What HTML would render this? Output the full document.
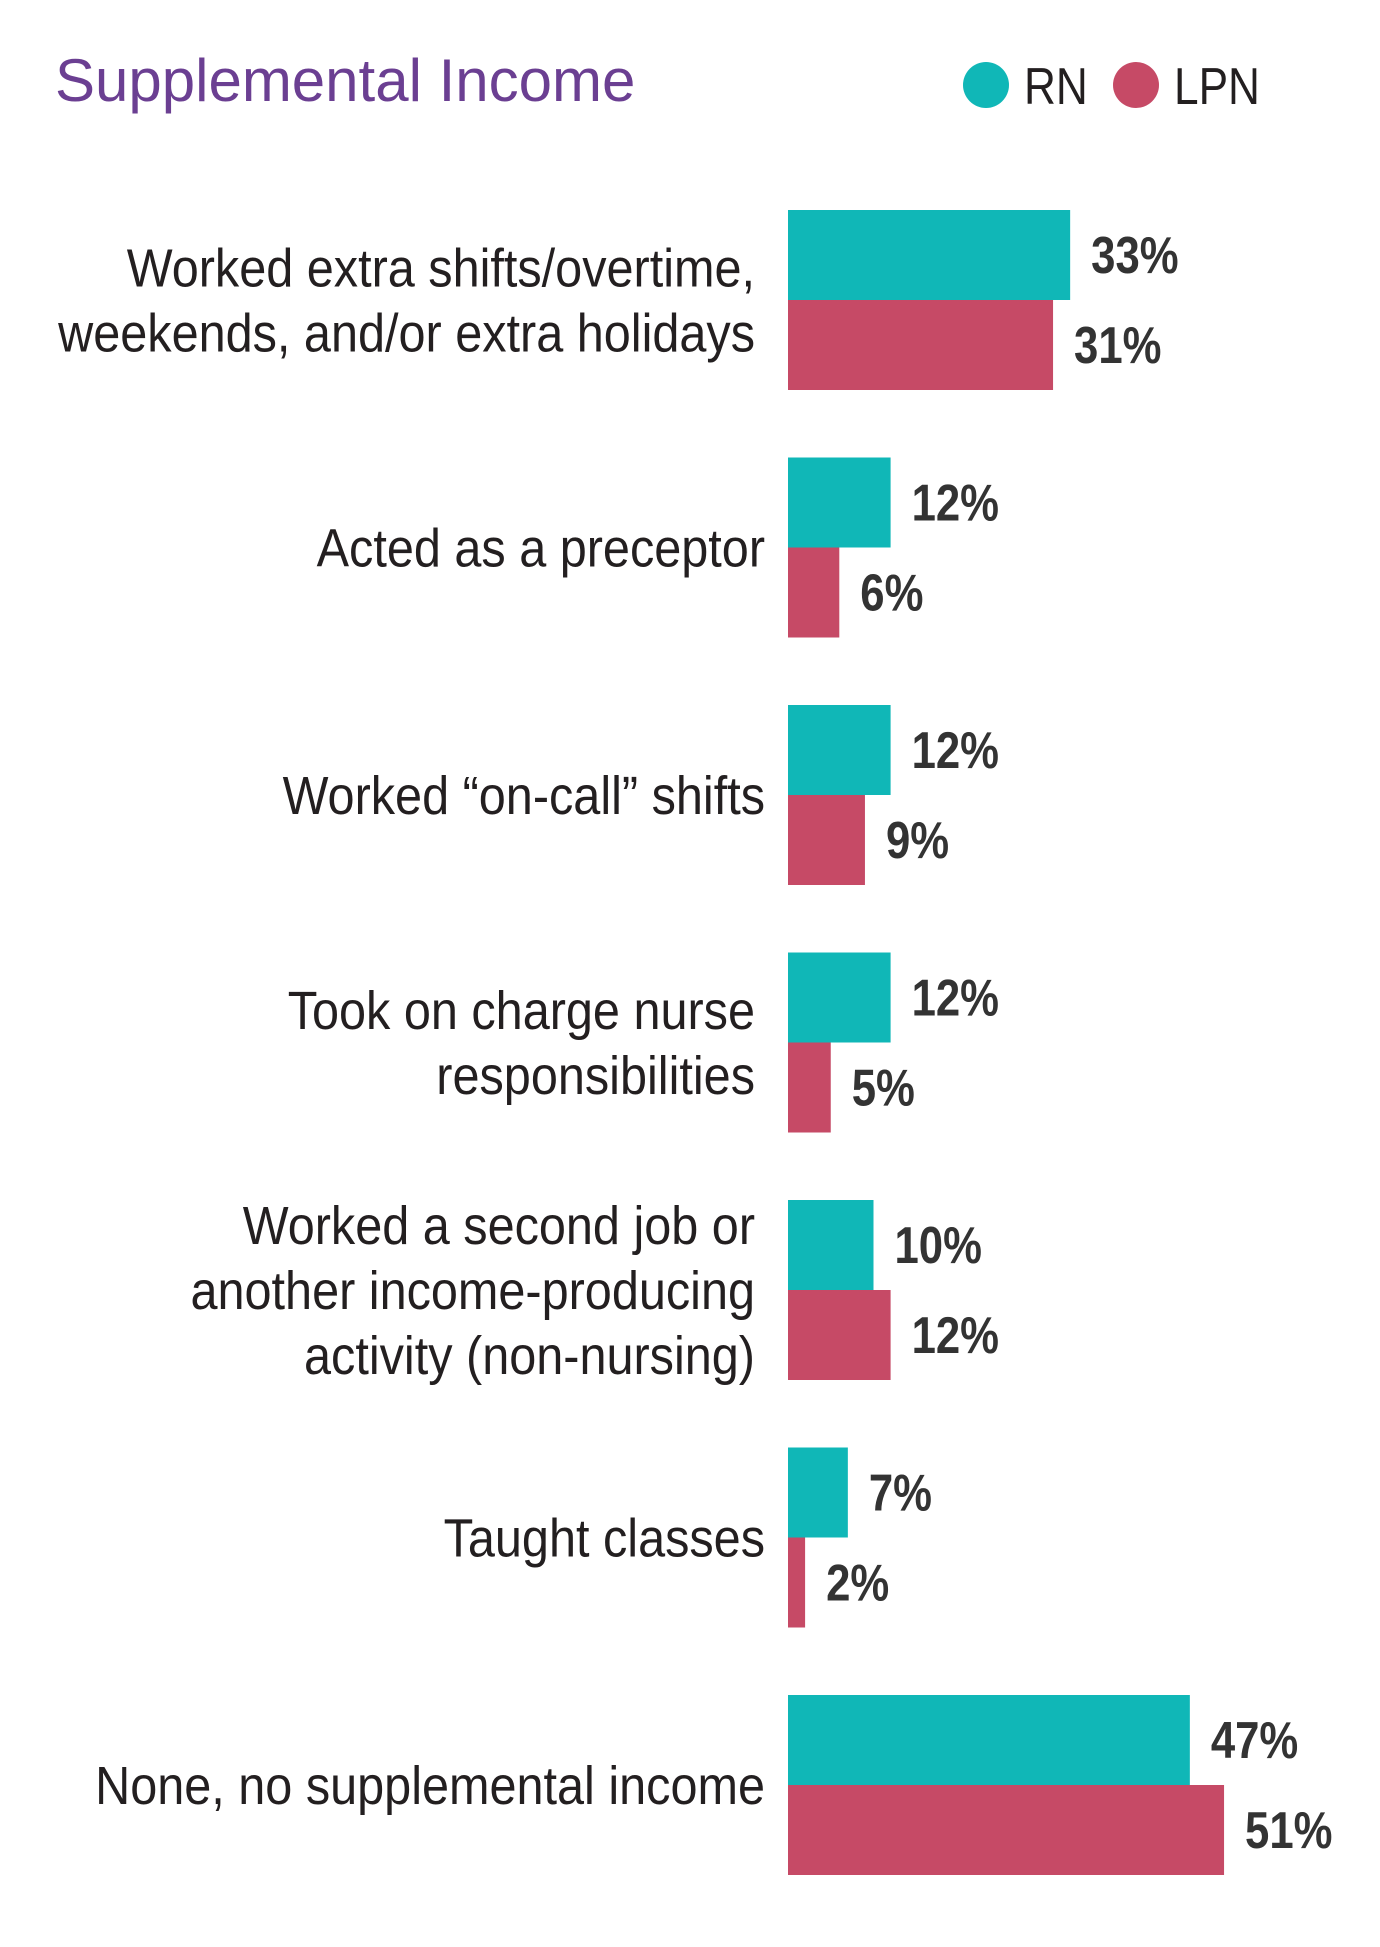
<!DOCTYPE html>
<html><head><meta charset="utf-8"><style>
html,body{margin:0;padding:0;background:#fff;}
svg{display:block;}
</style></head><body>
<svg id="chart" width="1380" height="1947" viewBox="0 0 1380 1947" xmlns="http://www.w3.org/2000/svg" font-family="'Liberation Sans', sans-serif">
<text x="55" y="101" font-size="60" fill="#6b3f92" transform="translate(55,0) scale(1.0,1) translate(-55,0)">Supplemental Income</text>
<g>
<circle cx="986" cy="85" r="23" fill="#10b7b7"/>
<text x="1024" y="104" font-size="52" fill="#231f20" transform="translate(1024,0) scale(0.85,1) translate(-1024,0)">RN</text>
<circle cx="1136" cy="85" r="23" fill="#c64a66"/>
<text x="1174" y="104" font-size="52" fill="#231f20" transform="translate(1174,0) scale(0.85,1) translate(-1174,0)">LPN</text>
</g>
<g id="bars"></g>
</svg>
<script>
const categories = [
  ["Worked extra shifts/overtime,","weekends, and/or extra holidays"],
  ["Acted as a preceptor"],
  ["Worked \u201con-call\u201d shifts"],
  ["Took on charge nurse","responsibilities"],
  ["Worked a second job or","another income-producing","activity (non-nursing)"],
  ["Taught classes"],
  ["None, no supplemental income"]
];
const rnValues = [33, 12, 12, 12, 10, 7, 47];
const lpnValues = [31, 6, 9, 5, 12, 2, 51];
const valueLabels = ["%"];

const NS = "http://www.w3.org/2000/svg";
const g = document.getElementById("bars");
const x0 = 788, pxPer = 8.55, barH = 90, groupTop = 210, groupStep = 247.5;
const xScale = v => v * pxPer;
const yScale = i => groupTop + i * groupStep;
function mk(tag, attrs){ const e=document.createElementNS(NS,tag); for(const k in attrs) e.setAttribute(k,attrs[k]); return e; }
function condensedText(x,y,str,size,weight,anchor,fill,sx){
  const t = mk("text",{x:0,y:0,"font-size":size,"font-weight":weight,"text-anchor":anchor,fill:fill,
    transform:`translate(${x},${y}) scale(${sx},1)`});
  t.textContent = str;
  return t;
}
categories.forEach((lines,i)=>{
  const top = yScale(i);
  const rw = xScale(rnValues[i]), lw = xScale(lpnValues[i]);
  const r = mk("rect",{x:x0,y:top,width:rw,height:barH,fill:"#10b7b7"});
  
  
  g.appendChild(r);
  const l = mk("rect",{x:x0,y:top+barH,width:lw,height:barH,fill:"#c64a66"});
  
  
  g.appendChild(l);
  const rt = condensedText(x0+rw+21, top+barH/2+18, rnValues[i]+valueLabels[0], 52, "bold", "start", "#333", 0.84);
  
  
  g.appendChild(rt);
  const lt = condensedText(x0+lw+21, top+barH*1.5+18, lpnValues[i]+valueLabels[0], 52, "bold", "start", "#333", 0.84);
  
  
  g.appendChild(lt);
  const n = lines.length, lh = 65;
  const cy = top + barH;
  const rx = n === 1 ? 765 : 755;
  lines.forEach((s,j)=>{
    const y = cy - (n-1)*lh/2 + j*lh + 19;
    const t = condensedText(rx, y, s, 54, "normal", "end", "#231f20", 0.9);
    
    
    g.appendChild(t);
  });
});
</script>
</body></html>
